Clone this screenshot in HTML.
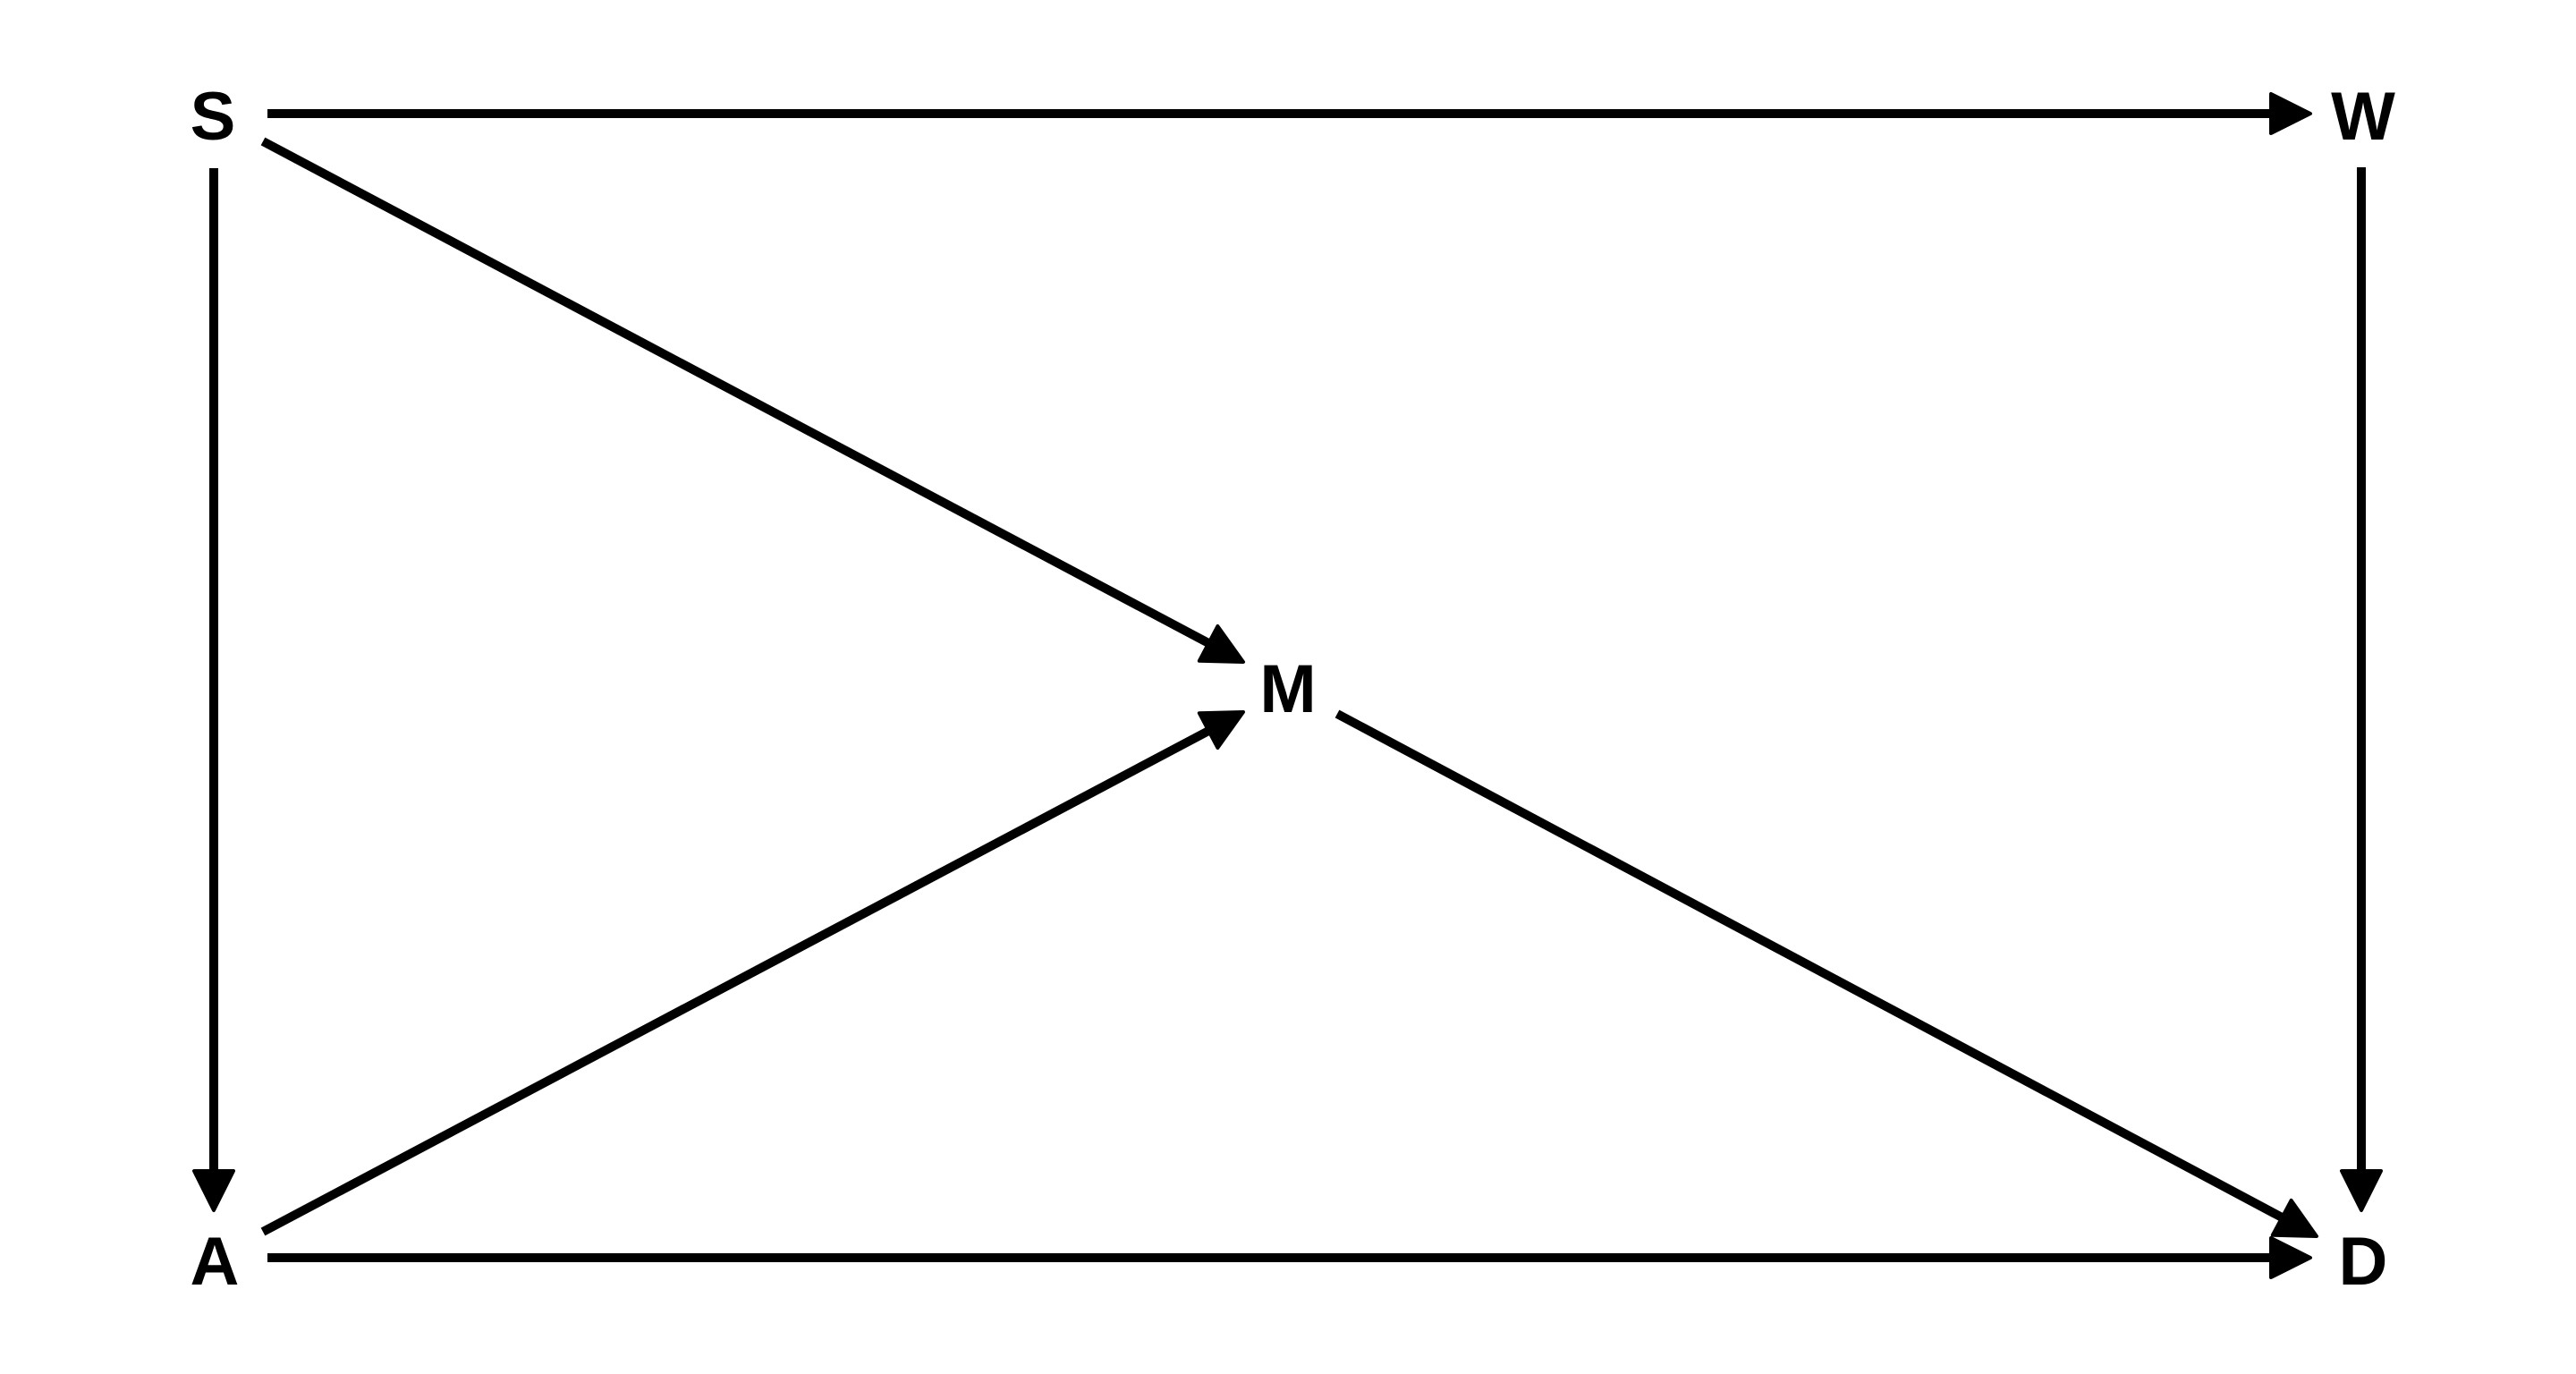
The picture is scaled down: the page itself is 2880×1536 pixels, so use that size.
<!DOCTYPE html>
<html><head><meta charset="utf-8"><style>html,body{margin:0;padding:0;background:#fff;}svg{display:block}</style></head>
<body>
<svg width="2880" height="1536" viewBox="0 0 2880 1536" xmlns="http://www.w3.org/2000/svg">
<rect width="2880" height="1536" fill="#fff"/>
<g font-family="Liberation Sans, sans-serif" font-weight="bold" font-size="76" text-anchor="middle" fill="#000">
<text x="238" y="156">S</text>
<text x="2642" y="156">W</text>
<text x="1440" y="796">M</text>
<text x="240" y="1436">A</text>
<text x="2642" y="1436">D</text>
</g>
<g stroke="#000" stroke-width="10" fill="none">
<line x1="299" y1="127" x2="2545" y2="127"/>
<line x1="239" y1="188" x2="239" y2="1315"/>
<line x1="2640" y1="187" x2="2640" y2="1315"/>
<line x1="299" y1="1406" x2="2545" y2="1406"/>
<line x1="294" y1="158" x2="1355" y2="721"/>
<line x1="294" y1="1377" x2="1355" y2="815"/>
<line x1="1495" y1="798" x2="2555" y2="1363"/>
</g>
<g fill="#000" stroke="#000" stroke-width="4" stroke-linejoin="round">
<polygon points="2583,127 2539,105 2539,149"/>
<polygon points="239,1353 217,1309 261,1309"/>
<polygon points="2640,1353 2618,1309 2662,1309"/>
<polygon points="2583,1406 2539,1384 2539,1428"/>
<polygon points="1390,740 1340.8,738.8 1361.4,700"/>
<polygon points="1390,796 1361.4,836 1340.8,797.2"/>
<polygon points="2590,1382 2540.8,1380.7 2561.6,1341.9"/>
</g>
</svg>
</body></html>
